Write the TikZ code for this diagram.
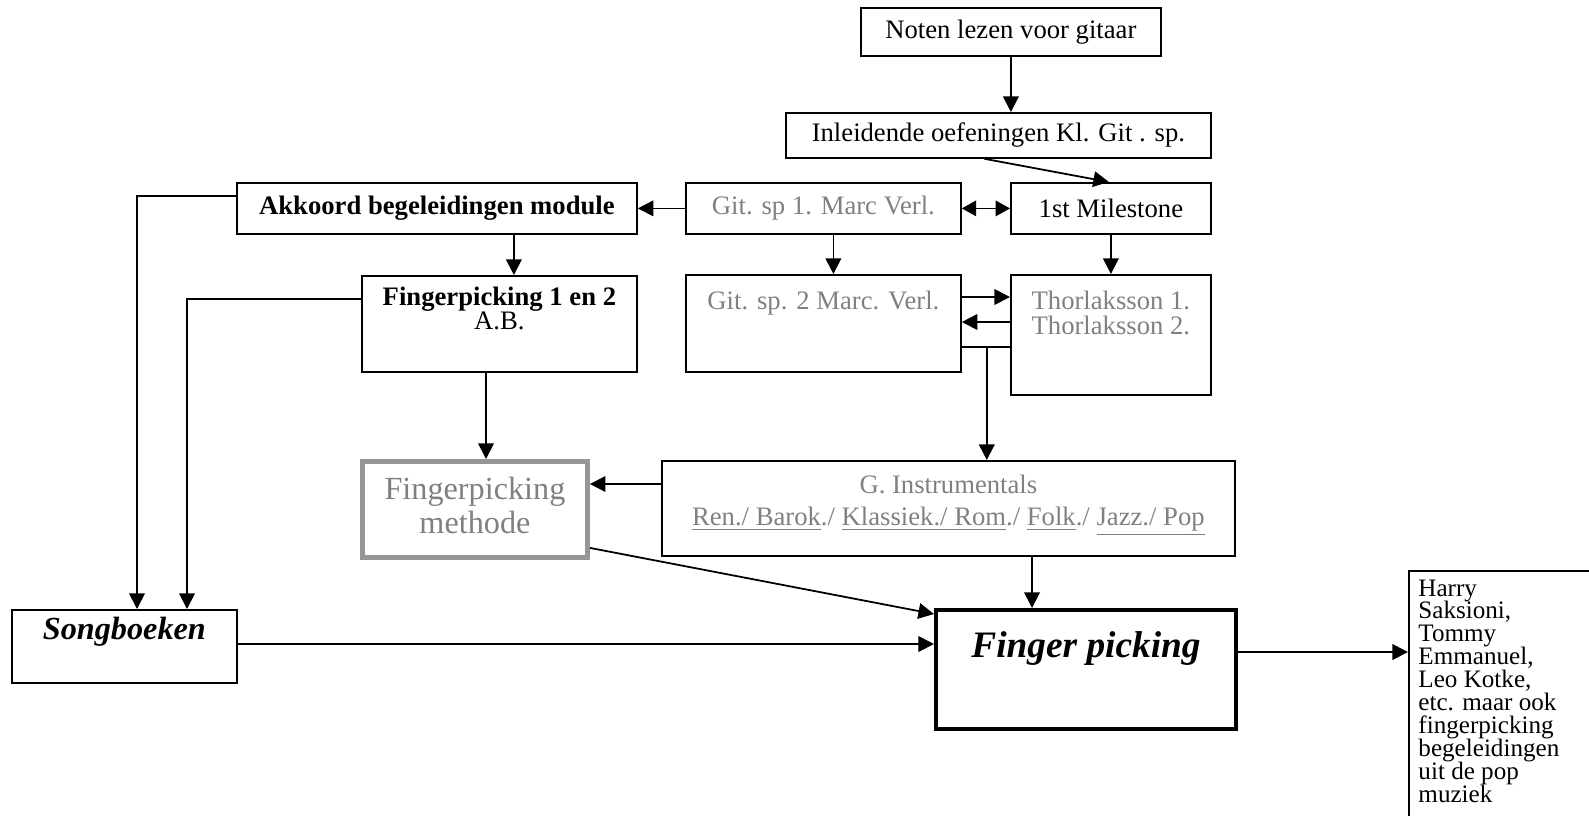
\documentclass[tikz,border=0pt,12pt]{standalone}
\usepackage{fontspec}
\setmainfont{Liberation Serif}
\usepackage{tikz}
\usetikzlibrary{arrows.meta,calc,positioning}
\definecolor{txtgray}{RGB}{128,128,128}
\definecolor{rimgray}{RGB}{150,150,150}
\newcommand{\stack}[1]{\begin{tabular}[t]{@{}c@{}}#1\end{tabular}}
\newcommand{\squeeze}{\setlength{\lineskiplimit}{-100pt}}

\begin{document}
\begin{tikzpicture}[
    x=0.45pt, y=-0.45pt,
    lin/.style={line width=0.8pt},
    arr/.style={lin, -{Triangle[length=7pt,width=7pt]}},
    box/.style={draw, lin, anchor=north west, inner sep=0pt, align=center},
    sz/.style 2 args={minimum width=#1*0.45pt, minimum height=#2*0.45pt},
    grey/.style={text=txtgray},
    lbl/.style={anchor=base, inner sep=0pt, yshift=-#1*0.45pt},
    tight/.style={font=\fontsize{12}{10.8}\selectfont},
  ]
\path[use as bounding box, clip] (0,0) rectangle (1589,815);

% top row
\node[box, sz={300}{48}] (noten) at (860,7) {Noten lezen voor gitaar};
\node[box, sz={425}{45}] (inleid) at (785,112) {Inleidende oefeningen Kl. Git . sp.};
\node[box, sz={400}{51}, font=\bfseries] (akkoord) at (236,182) {Akkoord begeleidingen module};
\node[box, sz={275}{51}, grey] (gitsp1) at (685,182) {Git. sp 1. Marc Verl.};
\node[box, sz={200}{51}] (milestone) at (1010,182) {1st Milestone};

% middle row
\node[box, sz={275}{96}, label={[lbl=30, tight]north:\stack{\textbf{Fingerpicking 1 en 2}\\A.B.}}] (fp12) at (361,275) {};
\node[box, sz={275}{97}, label={[lbl=35, grey]north:Git. sp. 2 Marc. Verl.}] (gitsp2) at (685,274) {};
\node[box, sz={200}{120}, label={[lbl=35, grey, tight]north:\stack{Thorlaksson 1.\\Thorlaksson 2.}}] (thor) at (1010,274) {};

% lower row
\node[box, sz={225}{96}, draw=rimgray, line width=2.2pt, grey, font=\fontsize{14.5}{15.3}\selectfont] (fpmeth) at (360,459) {\stack{Fingerpicking\\methode}};
\node[box, sz={573}{95}, label={[lbl=33, grey, font=\fontsize{12}{14.8}\selectfont]north:\stack{G. Instrumentals\\\underline{Ren./ Barok}./ \underline{Klassiek./ Rom}./ \underline{Folk}./ \underline{Jazz./ Pop}}}] (instr) at (661,460) {};

% bottom row
\node[box, sz={225}{73}, label={[lbl=30, font=\fontsize{14.5}{16}\selectfont\bfseries\itshape]north:Songboeken}] (song) at (11,609) {};
\node[box, sz={300}{119}, line width=1.8pt, label={[lbl=49, font=\fontsize{16.8}{18}\selectfont\bfseries\itshape]north:Finger picking}] (fpick) at (934,608) {};
\node[box, sz={220}{270}, label={[lbl=26, anchor=base west, xshift=10*0.45pt, text width=80pt, align=flush left, font=\fontsize{11.3}{10.3}\selectfont]north west:{\squeeze Harry\\Saksioni,\\Tommy\\Emmanuel,\\Leo Kotke,\\etc. maar ook\\fingerpicking\\begeleidingen\\uit de pop\\muziek}}] (harry) at (1408,570) {};

% connectors
\draw[arr] (noten.south) -- (noten.south |- inleid.north);
\draw[arr] ($(inleid.south)+(-14,0)$) -- ($(milestone.north)+(-2,0)$);
\draw[arr] (gitsp1.west) -- (akkoord.east);
\draw[lin, {Triangle[length=6.5pt,width=7pt]}-{Triangle[length=6.5pt,width=7pt]}] (gitsp1.east) -- (milestone.west);
\draw[arr] ($(akkoord.south)+(77,0)$) coordinate (a1) -- (a1 |- fp12.north);
\draw[arr] ($(gitsp1.south)+(10,0)$) coordinate (b1) -- (b1 |- gitsp2.north);
\draw[arr] (milestone.south) -- (thor.north);
\draw[arr] ($(gitsp2.north east)+(0,23)$) coordinate (c1) -- (c1 -| thor.west);
\draw[arr] ($(thor.north west)+(0,48)$) coordinate (c2) -- (c2 -| gitsp2.east);
\draw[lin] ($(gitsp2.north east)+(0,73)$) coordinate (c3) -- (c3 -| thor.west);
\draw[arr] ($(c3)+(25,0)$) coordinate (c4) -- (c4 |- instr.north);
\draw[arr] ($(instr.north west)+(0,24)$) coordinate (d1) -- (d1 -| fpmeth.east);
\draw[arr] ($(fp12.south west)+(125,0)$) coordinate (e1) -- (e1 |- fpmeth.north);
\draw[arr] ($(fpmeth.south east)+(0,-12)$) -- ($(fpick.north west)+(0,6)$);
\draw[arr] ($(instr.south west)+(371,0)$) coordinate (f1) -- (f1 |- fpick.north);
\draw[arr] ($(song.north east)+(0,35)$) coordinate (g1) -- (g1 -| fpick.west);
\draw[arr] ($(fpick.north east)+(0,44)$) coordinate (h1) -- (h1 -| harry.west);
\draw[arr] ($(akkoord.north west)+(0,14)$) -| ($(song.north west)+(126,0)$);
\draw[arr] ($(fp12.north west)+(0,24)$) -| ($(song.north west)+(176,0)$);

\end{tikzpicture}
\end{document}
